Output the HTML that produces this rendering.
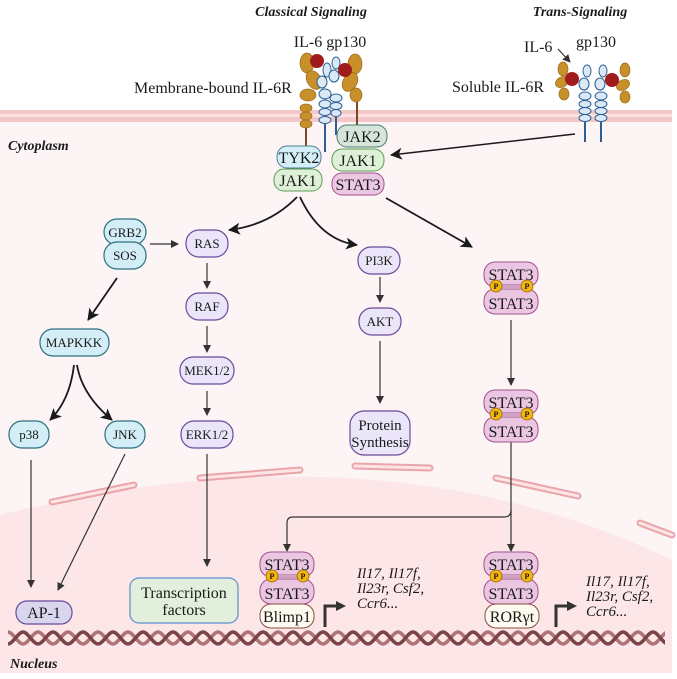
<!DOCTYPE html>
<html><head><meta charset="utf-8"><style>
html,body{margin:0;padding:0;background:#fff}
svg{display:block}
text{font-family:"Liberation Serif",serif;fill:#1a1a1a}
</style></head><body>
<svg width="677" height="679" viewBox="0 0 677 679" xmlns="http://www.w3.org/2000/svg">
<defs>
<marker id="ah" markerWidth="8" markerHeight="8" refX="7" refY="4" orient="auto" markerUnits="userSpaceOnUse"><path d="M0,0 L8,4 L0,8 z" fill="#333"/></marker>
<marker id="ahb" markerWidth="12" markerHeight="12" refX="11" refY="6" orient="auto" markerUnits="userSpaceOnUse"><path d="M0,0 L12,6 L0,12 L3,6 z" fill="#1a1a1a"/></marker>
<pattern id="dna" x="8" y="628" width="30" height="20" patternUnits="userSpaceOnUse">
<path d="M0,4 C5,4 10,16 15,16 C20,16 25,4 30,4" fill="none" stroke="#b07478" stroke-width="3.5"/>
<path d="M0,16 C5,16 10,4 15,4 C20,4 25,16 30,16" fill="none" stroke="#7a4448" stroke-width="3.5"/>
</pattern>
</defs>
<!-- cell -->
<rect x="0" y="116" width="672" height="557" fill="#fdf5f5"/>
<path d="M0,515 Q380,420 672,560 L672,673 L0,673 z" fill="#fce6e7"/>
<rect x="0" y="110" width="672" height="12" fill="#f3c6c8"/>
<rect x="0" y="114" width="672" height="3" fill="#fbe3e4"/>
<!-- nuclear envelope pores -->
<g fill="none" stroke="#e9a5a9" stroke-width="7" stroke-linecap="round">
<path d="M52,502 L134,485"/><path d="M200,478 L300,470"/><path d="M355,466 L430,468"/><path d="M496,478 L578,496"/><path d="M640,523 L672,535"/>
</g>
<g fill="none" stroke="#fde4e5" stroke-width="3" stroke-linecap="round">
<path d="M52,502 L134,485"/><path d="M200,478 L300,470"/><path d="M355,466 L430,468"/><path d="M496,478 L578,496"/><path d="M640,523 L672,535"/>
</g>
<!-- DNA -->
<rect x="8" y="628" width="657" height="20" fill="url(#dna)"/>

<!-- titles -->
<text x="311" y="16" font-size="14" font-weight="bold" font-style="italic" text-anchor="middle">Classical Signaling</text>
<text x="580" y="16" font-size="14" font-weight="bold" font-style="italic" text-anchor="middle">Trans-Signaling</text>
<text x="330" y="47" font-size="16" text-anchor="middle">IL-6 gp130</text>
<text x="134" y="93" font-size="16">Membrane-bound IL-6R</text>
<text x="524" y="52" font-size="16">IL-6</text>
<text x="576" y="47" font-size="16">gp130</text>
<text x="452" y="92" font-size="16">Soluble IL-6R</text>
<line x1="558" y1="49" x2="570" y2="62" stroke="#222" stroke-width="1" marker-end="url(#ah)"/>
<text x="8" y="150" font-size="14" font-weight="bold" font-style="italic">Cytoplasm</text>
<text x="10" y="668" font-size="14" font-weight="bold" font-style="italic">Nucleus</text>

<!-- classical receptor -->
<g>
<line x1="306" y1="125" x2="306" y2="146" stroke="#7a4a1e" stroke-width="2"/>
<line x1="357" y1="100" x2="357" y2="128" stroke="#7a4a1e" stroke-width="2"/>
<g fill="#c8902a" stroke="#9a6a1a" stroke-width="0.7">
<ellipse cx="307" cy="63" rx="7" ry="10"/><ellipse cx="314" cy="80" rx="7" ry="10" transform="rotate(-30 314 80)"/><ellipse cx="308" cy="95" rx="8" ry="6"/>
<ellipse cx="306" cy="108" rx="6" ry="4"/><ellipse cx="306" cy="116" rx="6" ry="4"/><ellipse cx="306" cy="124" rx="6" ry="4"/>
<ellipse cx="355" cy="64" rx="7" ry="10"/><ellipse cx="350" cy="82" rx="7" ry="10" transform="rotate(30 350 82)"/><ellipse cx="356" cy="95" rx="6" ry="7"/>
</g>
<g fill="#dbe9f7" stroke="#2e5f93" stroke-width="1">
<ellipse cx="327" cy="70" rx="4" ry="7"/><ellipse cx="322" cy="82" rx="5" ry="6"/><ellipse cx="325" cy="94" rx="6" ry="5"/><ellipse cx="325" cy="104" rx="6" ry="4"/><ellipse cx="325" cy="112" rx="6" ry="3.5"/><ellipse cx="325" cy="120" rx="6" ry="3.5"/>
<ellipse cx="336" cy="63" rx="4" ry="6"/><ellipse cx="334" cy="76" rx="5" ry="6"/><ellipse cx="336" cy="98" rx="6" ry="4"/><ellipse cx="336" cy="106" rx="6" ry="3.5"/><ellipse cx="336" cy="113" rx="5" ry="3.5"/>
</g>
<line x1="325" y1="124" x2="325" y2="152" stroke="#2e5f93" stroke-width="2"/>
<line x1="336" y1="117" x2="336" y2="135" stroke="#2e5f93" stroke-width="2"/>
<circle cx="317" cy="61" r="7" fill="#a01c1c"/><circle cx="345" cy="70" r="7" fill="#a01c1c"/>
</g>
<!-- trans receptor -->
<g>
<g fill="#c8902a" stroke="#9a6a1a" stroke-width="0.7">
<ellipse cx="563" cy="69" rx="5" ry="7"/><ellipse cx="562" cy="82" rx="7" ry="5" transform="rotate(-30 562 82)"/><ellipse cx="564" cy="94" rx="5" ry="6"/>
<ellipse cx="625" cy="70" rx="5" ry="7"/><ellipse cx="623" cy="85" rx="7" ry="5" transform="rotate(-30 623 85)"/><ellipse cx="625" cy="97" rx="5" ry="6"/>
</g>
<g fill="#dbe9f7" stroke="#2e5f93" stroke-width="1">
<ellipse cx="587" cy="71" rx="4" ry="6"/><ellipse cx="584" cy="84" rx="5" ry="6"/><ellipse cx="585" cy="96" rx="6" ry="4"/><ellipse cx="585" cy="104" rx="6" ry="3.5"/><ellipse cx="585" cy="111" rx="6" ry="3.5"/><ellipse cx="585" cy="118" rx="6" ry="3.5"/>
<ellipse cx="603" cy="71" rx="4" ry="6"/><ellipse cx="600" cy="84" rx="5" ry="6"/><ellipse cx="601" cy="96" rx="6" ry="4"/><ellipse cx="601" cy="104" rx="6" ry="3.5"/><ellipse cx="601" cy="111" rx="6" ry="3.5"/><ellipse cx="601" cy="118" rx="6" ry="3.5"/>
</g>
<line x1="585" y1="122" x2="585" y2="142" stroke="#2e5f93" stroke-width="2"/>
<line x1="601" y1="122" x2="601" y2="142" stroke="#2e5f93" stroke-width="2"/>
<circle cx="572" cy="79" r="7" fill="#a01c1c"/><circle cx="612" cy="80" r="7" fill="#a01c1c"/>
</g>
<line x1="575" y1="134" x2="391" y2="155" stroke="#1a1a1a" stroke-width="1.5" marker-end="url(#ahb)"/>

<!-- JAK complexes -->
<g font-size="16" text-anchor="middle">
<rect x="277" y="146" width="44" height="22" rx="10" fill="#d3eef6" stroke="#4a7f94"/><text x="299" y="163">TYK2</text>
<rect x="274" y="169" width="48" height="22" rx="10" fill="#dff0d8" stroke="#5a9a50"/><text x="298" y="186">JAK1</text>
<rect x="337" y="125" width="50" height="22" rx="10" fill="#d5e5dc" stroke="#4a7a6a"/><text x="362" y="142">JAK2</text>
<rect x="332" y="149" width="52" height="22" rx="10" fill="#dff0d8" stroke="#5a9a50"/><text x="358" y="166">JAK1</text>
<rect x="332" y="173" width="52" height="22" rx="10" fill="#ecc7e3" stroke="#a2508c"/><text x="358" y="190">STAT3</text>
</g>

<!-- arrows from JAK -->
<g fill="none" stroke="#1a1a1a" stroke-width="1.8">
<path d="M297,197 Q270,225 229,230" marker-end="url(#ahb)"/>
<path d="M300,197 Q320,240 357,245" marker-end="url(#ahb)"/>
<path d="M386,198 L472,247" marker-end="url(#ahb)"/>
<path d="M117,278 L88,320" marker-end="url(#ahb)"/>
<path d="M74,365 Q70,400 50,420" marker-end="url(#ahb)"/>
<path d="M77,365 Q82,395 112,420" marker-end="url(#ahb)"/>
</g>
<g fill="none" stroke="#333" stroke-width="1.2">
<line x1="150" y1="244" x2="178" y2="244" marker-end="url(#ah)"/>
<line x1="207" y1="263" x2="207" y2="288" marker-end="url(#ah)"/>
<line x1="207" y1="326" x2="207" y2="352" marker-end="url(#ah)"/>
<line x1="207" y1="391" x2="207" y2="415" marker-end="url(#ah)"/>
<line x1="380" y1="277" x2="380" y2="302" marker-end="url(#ah)"/>
<line x1="380" y1="341" x2="380" y2="403" marker-end="url(#ah)"/>
<line x1="511" y1="320" x2="511" y2="385" marker-end="url(#ah)"/>
<line x1="31" y1="460" x2="31" y2="587" marker-end="url(#ah)"/>
<line x1="125" y1="454" x2="58" y2="590" marker-end="url(#ah)"/>
<line x1="207" y1="454" x2="207" y2="566" marker-end="url(#ah)"/>
<path d="M511,440 L511,551" marker-end="url(#ah)"/>
<path d="M511,510 Q511,517 504,517 L293,517 Q287,517 287,523 L287,551" marker-end="url(#ah)"/>
</g>

<!-- nodes -->
<g font-size="13" text-anchor="middle">
<rect x="104" y="219" width="42" height="26" rx="13" fill="#d3eef6" stroke="#2e6e80" stroke-width="1.2"/><text x="125" y="237">GRB2</text>
<rect x="104" y="242" width="42" height="27" rx="13" fill="#d3eef6" stroke="#2e6e80" stroke-width="1.2"/><text x="125" y="260">SOS</text>
<rect x="186" y="230" width="42" height="27" rx="13" fill="#ebe5f9" stroke="#6a4a9a" stroke-width="1.2"/><text x="207" y="248">RAS</text>
<rect x="186" y="293" width="42" height="27" rx="13" fill="#ebe5f9" stroke="#6a4a9a" stroke-width="1.2"/><text x="207" y="311">RAF</text>
<rect x="180" y="357" width="54" height="27" rx="13" fill="#ebe5f9" stroke="#6a4a9a" stroke-width="1.2"/><text x="207" y="375">MEK1/2</text>
<rect x="181" y="421" width="52" height="27" rx="13" fill="#ebe5f9" stroke="#6a4a9a" stroke-width="1.2"/><text x="207" y="439">ERK1/2</text>
<rect x="40" y="329" width="69" height="27" rx="13" fill="#d3eef6" stroke="#2e6e80" stroke-width="1.2"/><text x="74" y="347">MAPKKK</text>
<rect x="9" y="421" width="40" height="27" rx="13" fill="#d3eef6" stroke="#2e6e80" stroke-width="1.2"/><text x="29" y="439">p38</text>
<rect x="105" y="421" width="40" height="27" rx="13" fill="#d3eef6" stroke="#2e6e80" stroke-width="1.2"/><text x="125" y="439">JNK</text>
<rect x="358" y="247" width="42" height="27" rx="13" fill="#ebe5f9" stroke="#6a4a9a" stroke-width="1.2"/><text x="379" y="265">PI3K</text>
<rect x="359" y="308" width="42" height="27" rx="13" fill="#ebe5f9" stroke="#6a4a9a" stroke-width="1.2"/><text x="380" y="326">AKT</text>
<rect x="350" y="411" width="60" height="44" rx="14" fill="#ebe5f9" stroke="#6a4a9a" stroke-width="1.2"/>
<text x="380" y="430" font-size="15">Protein</text><text x="380" y="447" font-size="15">Synthesis</text>
<rect x="16" y="601" width="56" height="23" rx="11" fill="#d9d5ef" stroke="#6a4a9a" stroke-width="1.2"/><text x="44" y="618" font-size="16">AP-1</text>
<rect x="130" y="578" width="108" height="45" rx="9" fill="#e2efdc" stroke="#5a8fcf" stroke-width="1.2"/>
<text x="184" y="598" font-size="16">Transcription</text><text x="184" y="615" font-size="16">factors</text>
</g>

<!-- STAT3 dimers -->
<g font-size="16" text-anchor="middle">
<g>
<rect x="484" y="262" width="54" height="25" rx="11" fill="#ebc6e2" stroke="#a2508c"/><text x="511" y="280">STAT3</text>
<rect x="484" y="289" width="54" height="25" rx="11" fill="#ebc6e2" stroke="#a2508c"/><text x="511" y="309">STAT3</text>
<line x1="496" y1="286" x2="527" y2="286" stroke="#a2508c" stroke-width="3"/><line x1="496" y1="286" x2="527" y2="286" stroke="#fff" stroke-width="1"/>
<circle cx="496" cy="286" r="6" fill="#f5b40f" stroke="#8a6a00" stroke-width="0.8"/><circle cx="527" cy="286" r="6" fill="#f5b40f" stroke="#8a6a00" stroke-width="0.8"/>
<text x="496" y="289" font-size="8" font-weight="bold">P</text><text x="527" y="289" font-size="8" font-weight="bold">P</text>
</g>
<g transform="translate(0,128)">
<rect x="484" y="262" width="54" height="25" rx="11" fill="#ebc6e2" stroke="#a2508c"/><text x="511" y="280">STAT3</text>
<rect x="484" y="289" width="54" height="25" rx="11" fill="#ebc6e2" stroke="#a2508c"/><text x="511" y="309">STAT3</text>
<line x1="496" y1="286" x2="527" y2="286" stroke="#a2508c" stroke-width="3"/><line x1="496" y1="286" x2="527" y2="286" stroke="#fff" stroke-width="1"/>
<circle cx="496" cy="286" r="6" fill="#f5b40f" stroke="#8a6a00" stroke-width="0.8"/><circle cx="527" cy="286" r="6" fill="#f5b40f" stroke="#8a6a00" stroke-width="0.8"/>
<text x="496" y="289" font-size="8" font-weight="bold">P</text><text x="527" y="289" font-size="8" font-weight="bold">P</text>
</g>
<g transform="translate(-224,290)">
<rect x="484" y="262" width="54" height="25" rx="11" fill="#ebc6e2" stroke="#a2508c"/><text x="511" y="280">STAT3</text>
<rect x="484" y="289" width="54" height="25" rx="11" fill="#ebc6e2" stroke="#a2508c"/><text x="511" y="309">STAT3</text>
<line x1="496" y1="286" x2="527" y2="286" stroke="#a2508c" stroke-width="3"/><line x1="496" y1="286" x2="527" y2="286" stroke="#fff" stroke-width="1"/>
<circle cx="496" cy="286" r="6" fill="#f5b40f" stroke="#8a6a00" stroke-width="0.8"/><circle cx="527" cy="286" r="6" fill="#f5b40f" stroke="#8a6a00" stroke-width="0.8"/>
<text x="496" y="289" font-size="8" font-weight="bold">P</text><text x="527" y="289" font-size="8" font-weight="bold">P</text>
</g>
<g transform="translate(0,290)">
<rect x="484" y="262" width="54" height="25" rx="11" fill="#ebc6e2" stroke="#a2508c"/><text x="511" y="280">STAT3</text>
<rect x="484" y="289" width="54" height="25" rx="11" fill="#ebc6e2" stroke="#a2508c"/><text x="511" y="309">STAT3</text>
<line x1="496" y1="286" x2="527" y2="286" stroke="#a2508c" stroke-width="3"/><line x1="496" y1="286" x2="527" y2="286" stroke="#fff" stroke-width="1"/>
<circle cx="496" cy="286" r="6" fill="#f5b40f" stroke="#8a6a00" stroke-width="0.8"/><circle cx="527" cy="286" r="6" fill="#f5b40f" stroke="#8a6a00" stroke-width="0.8"/>
<text x="496" y="289" font-size="8" font-weight="bold">P</text><text x="527" y="289" font-size="8" font-weight="bold">P</text>
</g>
<rect x="260" y="604" width="54" height="24" rx="11" fill="#fdfaf0" stroke="#8a4a40"/><text x="287" y="622">Blimp1</text>
<rect x="485" y="604" width="54" height="24" rx="11" fill="#fdfaf0" stroke="#8a4a40"/><text x="512" y="622">RORγt</text>
</g>

<!-- transcription arrows -->
<g fill="none" stroke="#333" stroke-width="3">
<path d="M325,627 L325,606 L337,606"/><path d="M556,627 L556,606 L568,606"/>
</g>
<path d="M336,601 L346,606 L336,611 z" fill="#333"/><path d="M567,601 L577,606 L567,611 z" fill="#333"/>
<g font-size="15" font-style="italic">
<text x="357" y="578">Il17, Il17f,</text><text x="357" y="593">Il23r, Csf2,</text><text x="357" y="608">Ccr6...</text>
<text x="586" y="586">Il17, Il17f,</text><text x="586" y="601">Il23r, Csf2,</text><text x="586" y="616">Ccr6...</text>
</g>
</svg>
</body></html>
